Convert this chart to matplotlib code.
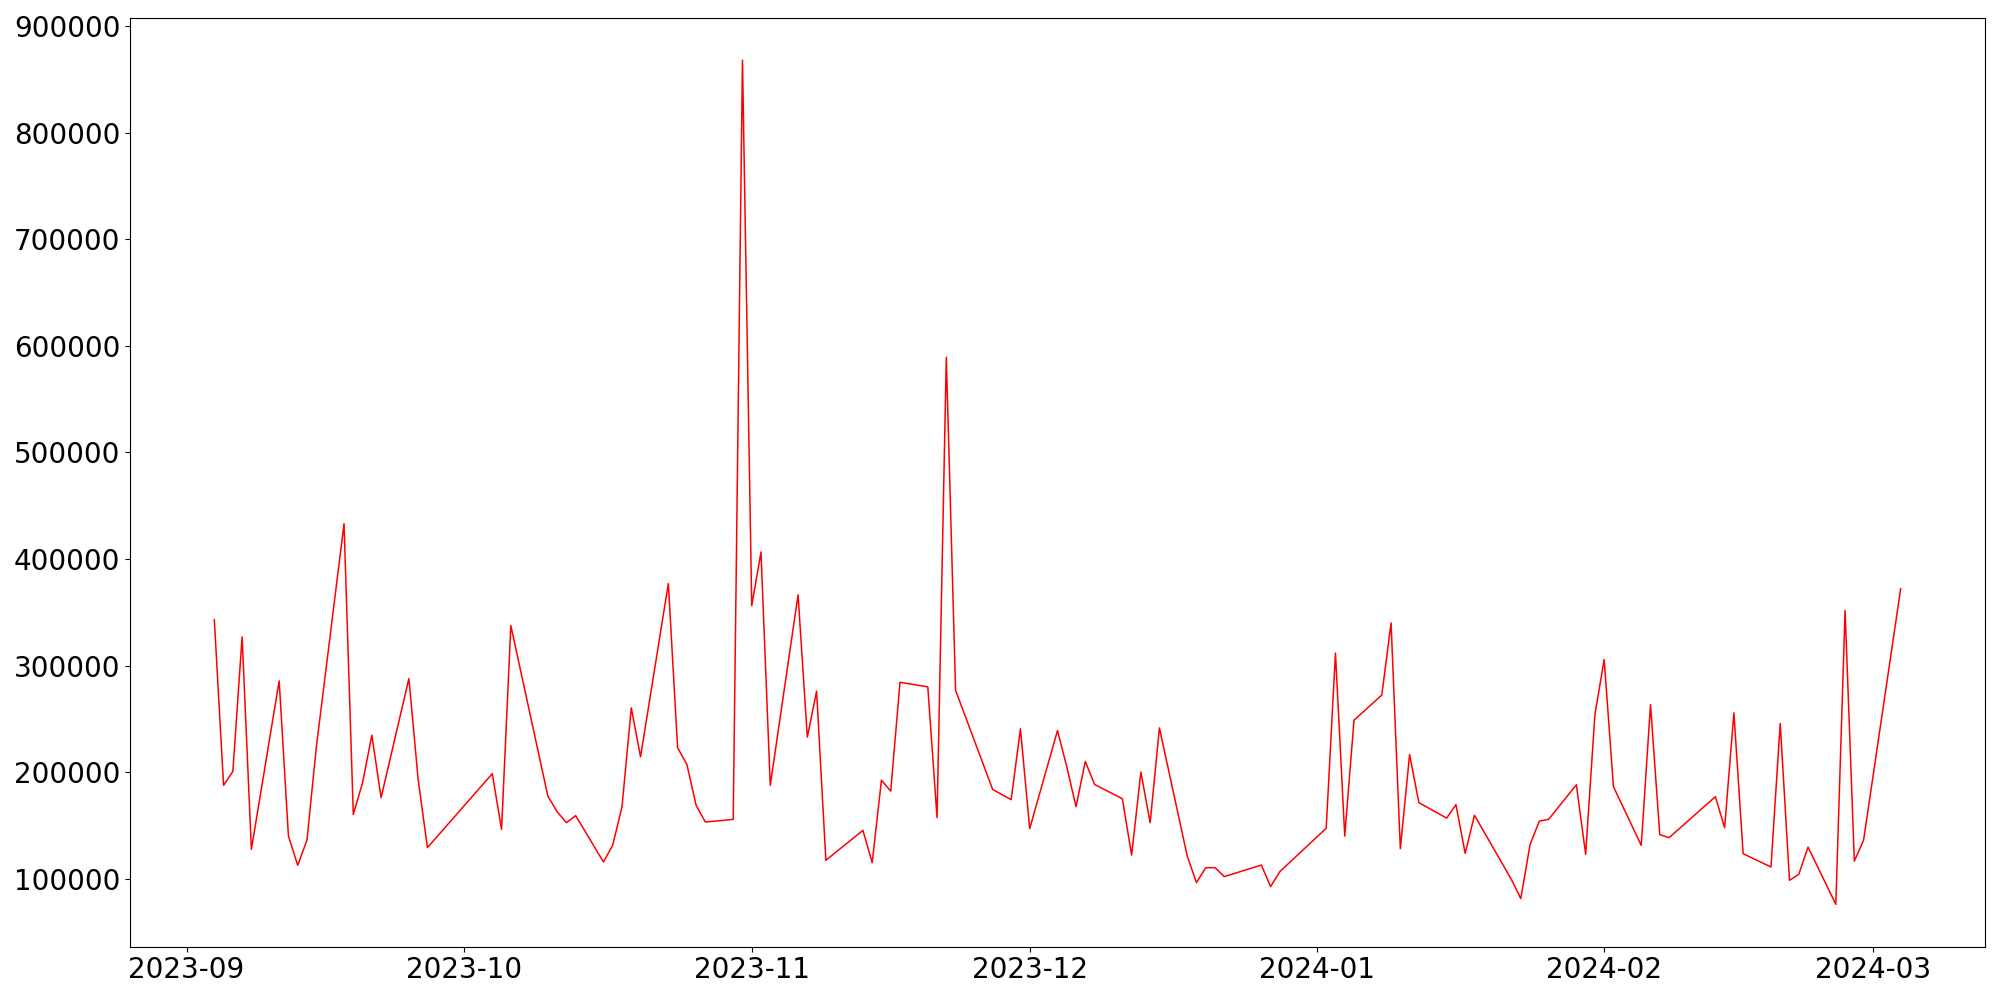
import matplotlib
matplotlib.use("Agg")
import matplotlib.pyplot as plt
import pandas as pd

dates = [
    "2023-09-04", "2023-09-05", "2023-09-06", "2023-09-07", "2023-09-08",
    "2023-09-11", "2023-09-12", "2023-09-13", "2023-09-14", "2023-09-15",
    "2023-09-18", "2023-09-19", "2023-09-20", "2023-09-21", "2023-09-22",
    "2023-09-25", "2023-09-26", "2023-09-27",
    "2023-10-04", "2023-10-05", "2023-10-06",
    "2023-10-10", "2023-10-11", "2023-10-12", "2023-10-13",
    "2023-10-16", "2023-10-17", "2023-10-18", "2023-10-19", "2023-10-20",
    "2023-10-23", "2023-10-24", "2023-10-25", "2023-10-26", "2023-10-27",
    "2023-10-30", "2023-10-31", "2023-11-01", "2023-11-02", "2023-11-03",
    "2023-11-06", "2023-11-07", "2023-11-08", "2023-11-09",
    "2023-11-13", "2023-11-14", "2023-11-15", "2023-11-16", "2023-11-17",
    "2023-11-20", "2023-11-21", "2023-11-22", "2023-11-23",
    "2023-11-27", "2023-11-29", "2023-11-30", "2023-12-01",
    "2023-12-04", "2023-12-05", "2023-12-06", "2023-12-07", "2023-12-08",
    "2023-12-11", "2023-12-12", "2023-12-13", "2023-12-14", "2023-12-15",
    "2023-12-18", "2023-12-19", "2023-12-20", "2023-12-21", "2023-12-22",
    "2023-12-26", "2023-12-27", "2023-12-28",
    "2024-01-02", "2024-01-03", "2024-01-04", "2024-01-05",
    "2024-01-08", "2024-01-09", "2024-01-10", "2024-01-11", "2024-01-12",
    "2024-01-15", "2024-01-16", "2024-01-17", "2024-01-18",
    "2024-01-22", "2024-01-23", "2024-01-24", "2024-01-25", "2024-01-26",
    "2024-01-29", "2024-01-30", "2024-01-31", "2024-02-01", "2024-02-02",
    "2024-02-05", "2024-02-06", "2024-02-07", "2024-02-08",
    "2024-02-13", "2024-02-14", "2024-02-15", "2024-02-16",
    "2024-02-19", "2024-02-20", "2024-02-21", "2024-02-22", "2024-02-23",
    "2024-02-26", "2024-02-27", "2024-02-28", "2024-02-29",
    "2024-03-04",
]

values = [
    343100, 187500, 200600, 326900, 127500,
    285600, 139900, 112500, 136200, 222800,
    433100, 160300, 190000, 234600, 176000,
    287800, 193000, 129100,
    198500, 146200, 337500,
    177400, 162800, 152500, 159100,
    115600, 131500, 167500, 260300, 214400,
    376900, 222800, 207200, 168700, 153100,
    155600, 868200, 356200, 406600, 187500,
    366300, 232800, 275900, 117200,
    145300, 115000, 192400, 182100, 284300,
    280000, 157200, 589400, 276800,
    183700, 174100, 240600, 146900,
    239000, 205000, 167500, 210000, 188400,
    175000, 122100, 200000, 152500, 241400,
    121200, 96250, 110300, 110300, 101900,
    112750, 92500, 106600,
    147300, 311700, 139900, 248700,
    272300, 340000, 128100, 216500, 171300,
    156800, 169400, 123700, 159500,
    99000, 81250, 131900, 154000, 155600,
    188100, 122800, 254000, 305600, 186300,
    131200, 263400, 141300, 138400,
    176900, 147800, 255600, 123400,
    110900, 245600, 98400, 104000, 129600,
    75900, 351600, 116500, 136200,
    372200,
]

x = pd.to_datetime(dates)

fig = plt.figure(figsize=(20, 10), dpi=100)
ax = fig.add_axes([0.065, 0.0535, 0.9275, 0.9285])
ax.plot(x, values, color="red", linewidth=1.1)
ax.tick_params(axis="both", labelsize=20)
fig.savefig("out.png", dpi=100)
